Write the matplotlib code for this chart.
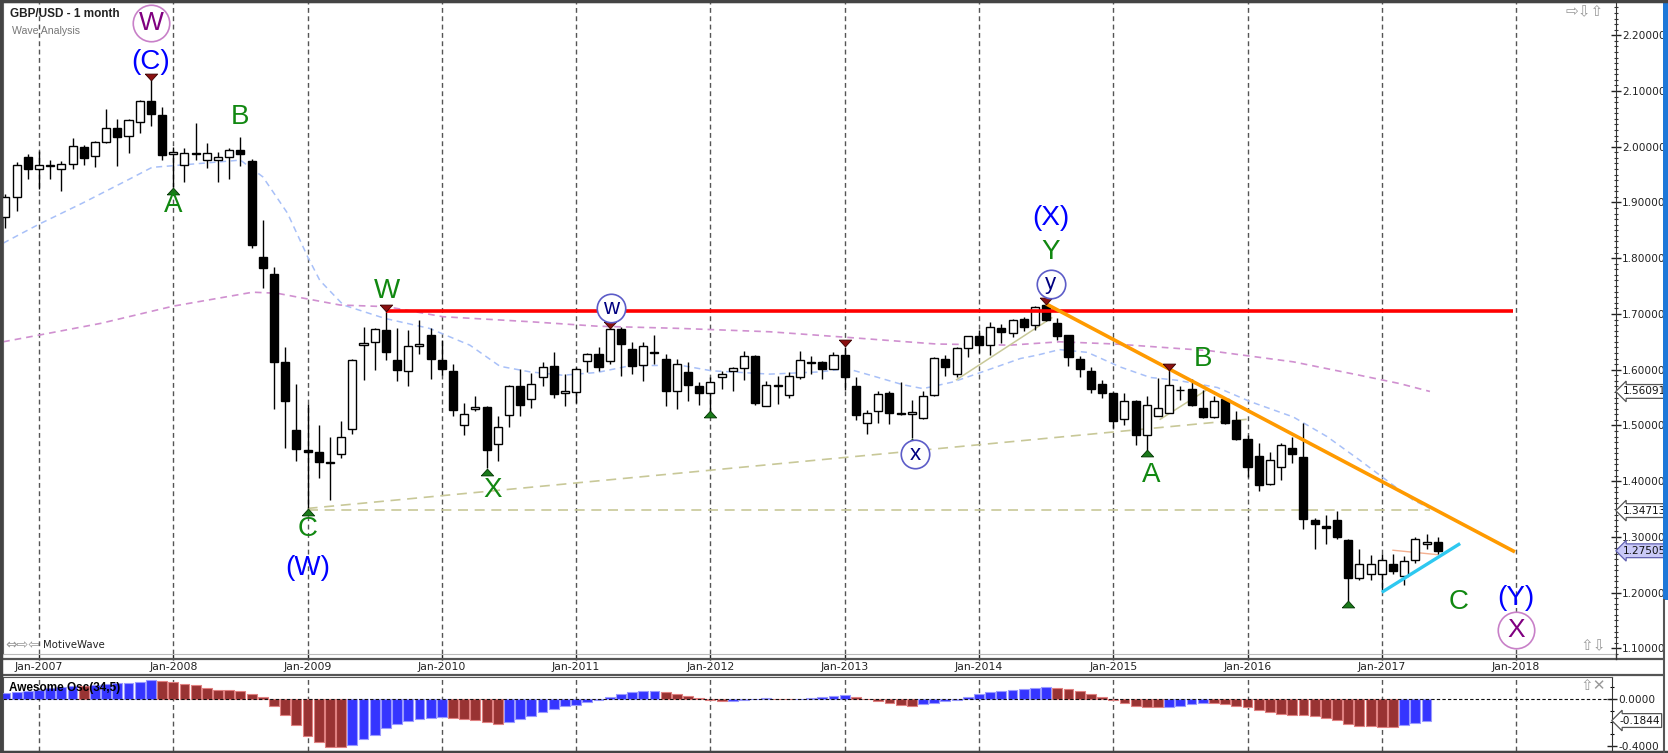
import matplotlib
matplotlib.use("Agg")
import matplotlib.pyplot as plt
import matplotlib.transforms as mtrans
from matplotlib.lines import Line2D
from matplotlib.patches import Rectangle
from matplotlib.ticker import MultipleLocator
import numpy as np

plt.rcParams['font.family'] = ['DejaVu Sans']

# ---------------------------------------------------------------- data
start_year, start_month = 2006, 10   # first candle: Oct 2006 (monthly GBP/USD)

opens = [1.874, 1.910, 1.981,
         1.960, 1.966, 1.960, 1.969, 2.000, 1.983, 2.009, 2.034, 2.019, 2.045, 2.082, 2.057,
         1.987, 1.967, 1.987, 1.977, 1.976, 1.982, 1.995, 1.975, 1.803, 1.772, 1.613, 1.491,
         1.456, 1.452, 1.433, 1.449, 1.493, 1.645, 1.650, 1.672, 1.617, 1.598, 1.643, 1.662,
         1.617, 1.598, 1.500, 1.530, 1.533, 1.467, 1.519, 1.571, 1.547, 1.586, 1.606, 1.558,
         1.560, 1.616, 1.628, 1.615, 1.673, 1.637, 1.609, 1.631, 1.619, 1.561, 1.595, 1.571,
         1.558, 1.586, 1.597, 1.603, 1.625, 1.535, 1.570, 1.555, 1.587, 1.612, 1.614, 1.602,
         1.627, 1.571, 1.505, 1.525, 1.558, 1.523, 1.521, 1.513, 1.555, 1.620, 1.593, 1.639,
         1.660, 1.644, 1.674, 1.665, 1.691, 1.680, 1.716, 1.684, 1.662, 1.620, 1.598, 1.574,
         1.559, 1.512, 1.544, 1.483, 1.517, 1.522, 1.563, 1.565, 1.532, 1.515, 1.547, 1.510,
         1.475, 1.445, 1.395, 1.425, 1.460, 1.444, 1.330, 1.320, 1.330, 1.295, 1.226, 1.234,
         1.234, 1.252, 1.229, 1.259, 1.288, 1.290]
highs = [1.915, 1.973, 1.987,
         1.993, 1.976, 1.975, 2.015, 2.004, 2.010, 2.067, 2.049, 2.050, 2.083, 2.120, 2.071,
         1.999, 1.997, 2.042, 2.006, 1.991, 1.997, 2.017, 1.978, 1.869, 1.785, 1.641, 1.574,
         1.538, 1.501, 1.480, 1.508, 1.620, 1.677, 1.675, 1.705, 1.675, 1.671, 1.689, 1.674,
         1.653, 1.610, 1.541, 1.553, 1.535, 1.516, 1.573, 1.602, 1.594, 1.614, 1.631, 1.592,
         1.605, 1.630, 1.641, 1.675, 1.677, 1.650, 1.650, 1.663, 1.628, 1.619, 1.614, 1.578,
         1.586, 1.598, 1.605, 1.634, 1.627, 1.580, 1.589, 1.595, 1.633, 1.624, 1.616, 1.631,
         1.641, 1.586, 1.527, 1.562, 1.562, 1.577, 1.546, 1.562, 1.622, 1.627, 1.640, 1.661,
         1.671, 1.686, 1.682, 1.691, 1.695, 1.714, 1.718, 1.692, 1.663, 1.624, 1.604, 1.581,
         1.560, 1.558, 1.545, 1.552, 1.585, 1.599, 1.571, 1.583, 1.563, 1.553, 1.549, 1.525,
         1.483, 1.468, 1.453, 1.468, 1.480, 1.504, 1.333, 1.339, 1.347, 1.297, 1.278, 1.268,
         1.270, 1.270, 1.265, 1.299, 1.306, 1.299]
lows = [1.854, 1.885, 1.943,
        1.925, 1.942, 1.921, 1.960, 1.968, 1.964, 2.007, 1.966, 1.989, 2.025, 2.037, 1.977,
        1.927, 1.937, 1.976, 1.961, 1.937, 1.942, 1.966, 1.818, 1.746, 1.529, 1.459, 1.437,
        1.351, 1.406, 1.367, 1.441, 1.485, 1.582, 1.600, 1.617, 1.579, 1.571, 1.628, 1.584,
        1.590, 1.517, 1.482, 1.525, 1.423, 1.437, 1.497, 1.517, 1.532, 1.570, 1.550, 1.535,
        1.541, 1.596, 1.598, 1.610, 1.589, 1.592, 1.579, 1.610, 1.535, 1.529, 1.543, 1.537,
        1.526, 1.565, 1.562, 1.582, 1.537, 1.534, 1.538, 1.550, 1.583, 1.592, 1.583, 1.601,
        1.564, 1.509, 1.485, 1.505, 1.503, 1.519, 1.477, 1.511, 1.553, 1.589, 1.586, 1.622,
        1.629, 1.626, 1.647, 1.658, 1.670, 1.671, 1.688, 1.654, 1.607, 1.587, 1.559, 1.550,
        1.495, 1.501, 1.465, 1.456, 1.516, 1.522, 1.546, 1.535, 1.513, 1.514, 1.502, 1.474,
        1.408, 1.383, 1.393, 1.402, 1.433, 1.314, 1.279, 1.288, 1.297, 1.185, 1.222, 1.222,
        1.205, 1.234, 1.214, 1.253, 1.279, 1.270]
closes = [1.910, 1.967, 1.960,
          1.967, 1.968, 1.969, 2.001, 1.980, 2.009, 2.033, 2.017, 2.048, 2.082, 2.058, 1.985,
          1.991, 1.988, 1.989, 1.988, 1.982, 1.994, 1.987, 1.824, 1.782, 1.613, 1.543, 1.457,
          1.452, 1.434, 1.435, 1.480, 1.617, 1.648, 1.673, 1.631, 1.599, 1.643, 1.646, 1.619,
          1.601, 1.527, 1.520, 1.533, 1.456, 1.497, 1.571, 1.537, 1.574, 1.604, 1.557, 1.561,
          1.602, 1.628, 1.604, 1.673, 1.646, 1.607, 1.643, 1.629, 1.561, 1.611, 1.572, 1.558,
          1.577, 1.592, 1.603, 1.624, 1.541, 1.573, 1.572, 1.589, 1.617, 1.614, 1.601, 1.627,
          1.587, 1.519, 1.522, 1.557, 1.522, 1.521, 1.524, 1.553, 1.621, 1.605, 1.639, 1.660,
          1.645, 1.676, 1.668, 1.690, 1.677, 1.713, 1.689, 1.660, 1.622, 1.601, 1.566, 1.558,
          1.507, 1.544, 1.483, 1.537, 1.531, 1.572, 1.564, 1.536, 1.515, 1.544, 1.505, 1.475,
          1.426, 1.393, 1.438, 1.464, 1.449, 1.332, 1.323, 1.315, 1.299, 1.226, 1.252, 1.252,
          1.258, 1.239, 1.257, 1.297, 1.290, 1.275]

# Awesome Oscillator (34,5), Oct 2006 .. May 2017
ao_values = [0.049, 0.063, 0.069,
             0.077, 0.091, 0.106, 0.114, 0.111, 0.120, 0.129, 0.134, 0.137, 0.146, 0.163, 0.154,
             0.143, 0.129, 0.120, 0.097, 0.074, 0.073, 0.072, 0.043, 0.014, -0.060, -0.137, -0.226,
             -0.317, -0.371, -0.409, -0.411, -0.394, -0.346, -0.309, -0.251, -0.214, -0.189, -0.171, -0.160,
             -0.157, -0.160, -0.171, -0.177, -0.197, -0.214, -0.197, -0.174, -0.146, -0.114, -0.083, -0.060,
             -0.051, -0.029, -0.009, 0.014, 0.040, 0.057, 0.069, 0.071, 0.057, 0.040, 0.026, 0.011,
             -0.009, -0.020, -0.017, -0.009, -0.002, 0.006, 0.002, -0.001, 0.001, 0.008, 0.017, 0.026,
             0.034, 0.017, -0.003, -0.020, -0.037, -0.054, -0.056, -0.043, -0.034, -0.020, -0.009, 0.014,
             0.040, 0.057, 0.069, 0.077, 0.086, 0.094, 0.100, 0.097, 0.089, 0.066, 0.046, 0.017,
             -0.009, -0.037, -0.057, -0.071, -0.072, -0.069, -0.060, -0.043, -0.034, -0.037, -0.046, -0.057,
             -0.071, -0.094, -0.109, -0.126, -0.134, -0.137, -0.149, -0.163, -0.180, -0.214, -0.229, -0.230,
             -0.237, -0.238, -0.223, -0.203, -0.1844]

year_labels = ['Jan-2007', 'Jan-2008', 'Jan-2009', 'Jan-2010', 'Jan-2011', 'Jan-2012',
               'Jan-2013', 'Jan-2014', 'Jan-2015', 'Jan-2016', 'Jan-2017', 'Jan-2018']
price_ticks = [1.1, 1.2, 1.3, 1.4, 1.5, 1.6, 1.7, 1.8, 1.9, 2.0, 2.1, 2.2]
ao_ticks = [0.0, -0.4]

# moving averages (month offset from Jan-2007, value)
ma_fast_m = [-3.2, 0.0, 3.9, 7.9, 10.1, 12.0, 18.0, 20.0, 22.2, 24.0, 25.1, 27.2, 30.9, 34.9,
             38.5, 41.2, 43.9, 46.8, 49.9, 52.8, 57.3, 60.1, 65.3, 69.8, 72.2, 74.3, 77.2, 79.0,
             81.7, 84.3, 87.7, 89.2, 91.2, 93.7, 96.6, 99.3, 101.7, 105.3, 108.2, 112.1, 115.1,
             118.0, 121.6, 122.8, 124.3]
ma_fast_v = [1.827, 1.861, 1.899, 1.940, 1.963, 1.966, 1.976, 1.946, 1.881, 1.803, 1.760, 1.716,
             1.692, 1.674, 1.644, 1.606, 1.596, 1.590, 1.595, 1.607, 1.608, 1.598, 1.592, 1.596,
             1.602, 1.590, 1.573, 1.566, 1.578, 1.596, 1.620, 1.626, 1.636, 1.631, 1.605, 1.586,
             1.581, 1.568, 1.543, 1.515, 1.480, 1.438, 1.384, 1.366, 1.351]
ma_slow_m = [-3.2, 0.0, 5.5, 12.0, 19.1, 21.3, 26.9, 31.1, 36.1, 43.9, 49.9, 57.3, 65.3, 72.2,
             80.2, 86.8, 91.2, 96.2, 104.6, 112.1, 118.0, 121.6, 124.3]
ma_slow_v = [1.650, 1.662, 1.683, 1.714, 1.739, 1.737, 1.716, 1.713, 1.695, 1.686, 1.678, 1.674,
             1.668, 1.658, 1.646, 1.644, 1.650, 1.646, 1.634, 1.614, 1.590, 1.575, 1.5609]

# trend lines (month offset, price)
resist_m, resist_p = [31.0, 131.7], [1.7045, 1.7045]
down_m, down_p = [90.0, 131.9], [1.718, 1.273]
cyan_m, cyan_p = [120.0, 127.0], [1.2005, 1.288]
flat_m, flat_p = [24.0, 124.3], [1.3490, 1.3490]
rising_m, rising_p = [24.0, 108.0], [1.351, 1.511]
chan1_m, chan1_p = [82.0, 90.5], [1.582, 1.693]
chan2_m, chan2_p = [100.2, 104.3], [1.511, 1.563]
salmon_m, salmon_p = [121.0, 125.0], [1.276, 1.268]

# pivots (candle index) with triangle marks
top_pivots = [13, 34, 54, 75, 93, 104]
bottom_pivots = [15, 27, 43, 63, 81, 102, 120]

# wave labels: text, month offset, price, colour, circled
wave_text = ['W', '(C)', 'A', 'B', 'C', '(W)', 'W', 'X', 'w', 'x', '(X)', 'Y', 'y',
             'B', 'A', 'C', '(Y)', 'X']
wave_m = [10.0, 10.0, 12.0, 18.0, 24.0, 24.0, 31.1, 40.5, 51.1, 78.3, 90.4, 90.4, 90.4,
          104.0, 99.4, 126.9, 132.0, 132.0]
wave_p = [2.2226, 2.1526, 1.8955, 2.054, 1.314, 1.245, 1.7417, 1.384, 1.710, 1.448, 1.872,
          1.811, 1.754, 1.620, 1.411, 1.1836, 1.1897, 1.1328]
wave_col = ['purple', 'blue', 'green', 'green', 'green', 'blue', 'green', 'green', 'navy',
            'navy', 'blue', 'green', 'navy', 'green', 'green', 'green', 'blue', 'purple']
wave_circ = [True, False, False, False, False, False, False, False, True, True, False,
             False, True, False, False, False, False, True]

price_boxes = [(1.56091, 'white', '#555555'), (1.34713, 'white', '#555555'),
               (1.27505, '#C9C9F7', '#6060B0')]
ao_box = -0.1844

# ---------------------------------------------------------------- figure
W, H = 1668, 753
fig = plt.figure(figsize=(W / 100, H / 100), dpi=100)
fig.patch.set_facecolor('white')
PIX = mtrans.Affine2D().scale(1 / W, -1 / H).translate(0, 1) + fig.transFigure

ax = fig.add_axes([3 / W, 1 - 654 / H, 1613 / W, 652 / H])
ax2 = fig.add_axes([3 / W, 1 - 751 / H, 1609 / W, 74 / H])

PX_PER_M = 11.19
X0 = 39.0
ax.set_xlim((3 - X0) / PX_PER_M, (1616 - X0) / PX_PER_M)
ax2.set_xlim((3 - X0) / PX_PER_M, (1612 - X0) / PX_PER_M)
ax.set_ylim(1.0898, 2.2597)
ax2.set_ylim(-0.445, 0.188)

base_m = (start_year - 2007) * 12 + (start_month - 1)
cm = np.arange(len(opens)) + base_m
am = np.arange(len(ao_values)) + base_m

COL = {'purple': '#800080', 'blue': '#0000FF', 'green': '#118811', 'navy': '#000080'}
CIRC = {'purple': '#C880C8', 'navy': '#5C5CC8'}

# moving averages
ax.plot(ma_fast_m, ma_fast_v, color='#A8C0F8', lw=1.1, ls=(0, (4, 3)), zorder=2)
ax.plot(ma_slow_m, ma_slow_v, color='#D090D0', lw=1.2, ls=(0, (4, 3)), zorder=2)

# tan helper lines
ax.plot(flat_m, flat_p, color='#C8C898', lw=1.2, ls=(0, (6, 4)), zorder=2)
ax.plot(rising_m, rising_p, color='#C8C898', lw=1.2, ls=(0, (6, 4)), zorder=2)
ax.plot(chan1_m, chan1_p, color='#C8C898', lw=1.1, zorder=2)
ax.plot(chan2_m, chan2_p, color='#C8C898', lw=1.1, zorder=2)
ax.plot(salmon_m, salmon_p, color='#F4B090', lw=1.0, zorder=2)

# candles
for mi, o, h, l, c in zip(cm, opens, highs, lows, closes):
    ax.plot([mi, mi], [l, h], color='black', lw=1.0, zorder=3, solid_capstyle='butt')
    bot = min(o, c)
    ht = max(abs(c - o), 0.0006)
    fc = 'white' if c >= o else 'black'
    ax.add_patch(Rectangle((mi - 0.36, bot), 0.72, ht, fc=fc, ec='black', lw=1.0, zorder=4))

# main trend lines
ax.plot(resist_m, resist_p, color='#FF0000', lw=2.6, zorder=5, solid_capstyle='butt')
ax.plot(down_m, down_p, color='#FF9A00', lw=2.6, zorder=5, solid_capstyle='butt')
ax.plot(cyan_m, cyan_p, color='#2EC8F0', lw=2.4, zorder=5, solid_capstyle='butt')

# pivot triangles
tri_dn = [(-1, 0.55), (1, 0.55), (0, -0.55), (-1, 0.55)]
tri_up = [(-1, -0.55), (1, -0.55), (0, 0.55), (-1, -0.55)]
ax.scatter([cm[i] for i in top_pivots], [highs[i] + 0.006 for i in top_pivots], marker=tri_dn,
           s=80, c='#8B1010', edgecolors='#3A0000', linewidths=0.6, zorder=6)
ax.scatter([cm[i] for i in bottom_pivots], [lows[i] - 0.006 for i in bottom_pivots], marker=tri_up,
           s=80, c='#1A7A1A', edgecolors='#003300', linewidths=0.6, zorder=6)

# wave labels
for t, m, p, col, circ in zip(wave_text, wave_m, wave_p, wave_col, wave_circ):
    if circ:
        big = t.isupper()
        ax.scatter([m], [p], s=(690 if big else 420), facecolors='white', edgecolors=CIRC[col],
                   linewidths=1.2, zorder=6)
        ax.text(m, p, t, color=COL[col], fontsize=(19 if big else 16), ha='center',
                va='center', family='Liberation Sans', zorder=7)
    else:
        ax.text(m, p, t, color=COL[col], fontsize=20, ha='center', va='center',
                family='Liberation Sans', zorder=7)

# axes styling (main)
ax.set_xticks([12 * k for k in range(len(year_labels))])
ax.set_xticklabels(year_labels)
ax.grid(axis='x', color='#555555', lw=1.0, ls=(0, (3.5, 2.5)))
ax.set_axisbelow(True)
ax.tick_params(axis='x', direction='out', length=4, width=1, colors='#222222', labelsize=7.8, pad=2)
ax.yaxis.tick_right()
ax.set_yticks(price_ticks)
ax.set_yticklabels([f'{v:.5f}' for v in price_ticks])
ax.yaxis.set_minor_locator(MultipleLocator(0.01))
ax.tick_params(axis='y', which='major', direction='inout', length=7, width=1, colors='#222222',
               labelsize=7.6, pad=1)
ax.tick_params(axis='y', which='minor', direction='inout', length=3.5, width=0.8, colors='#333333')
ax.tick_params(axis='y', which='both', left=False)
for side in ['left', 'top']:
    ax.spines[side].set_color('#666666')
ax.spines['right'].set_color('#333333')
ax.spines['bottom'].set_color('#BBBBBB')

blend = mtrans.blended_transform_factory(ax.transAxes, ax.transData)
for val, fc, ec in price_boxes:
    ax.text(1.0045, val, f'{val:.5f}', transform=blend, fontsize=7.6, va='center', ha='left',
            color='#111111', zorder=8, clip_on=False,
            bbox=dict(boxstyle='larrow,pad=0.18', fc=fc, ec=ec, lw=0.9))

# AO panel
colors = []
edges = []
for k, v in enumerate(ao_values):
    up = k == 0 or v >= ao_values[k - 1]
    colors.append('#3535FF' if up else '#993333')
    edges.append('#9A9AFF' if up else '#E08080')
ax2.bar(am, ao_values, width=0.88, color=colors, edgecolor=edges, linewidth=0.8, zorder=3)
ax2.axhline(0, color='#111111', lw=0.8, ls=(0, (3, 2)), zorder=4)
ax2.set_xticks([12 * k for k in range(len(year_labels))])
ax2.grid(axis='x', color='#555555', lw=1.0, ls=(0, (3.5, 2.5)))
ax2.set_axisbelow(True)
ax2.tick_params(axis='x', length=0, labelbottom=False)
ax2.yaxis.tick_right()
ax2.set_yticks(ao_ticks)
ax2.set_yticklabels([f'{v:.4f}' for v in ao_ticks])
ax2.yaxis.set_minor_locator(MultipleLocator(0.1))
ax2.tick_params(axis='y', which='major', direction='inout', length=7, width=1, colors='#222222',
                labelsize=7.6, pad=1)
ax2.tick_params(axis='y', which='minor', direction='inout', length=3.5, width=0.8)
for side in ['left', 'top', 'bottom']:
    ax2.spines[side].set_color('#555555')
ax2.spines['right'].set_color('#333333')
blend2 = mtrans.blended_transform_factory(ax2.transAxes, ax2.transData)
ax2.text(1.0045, ao_box, f'{ao_box:.4f}', transform=blend2, fontsize=7.6, va='center', ha='left',
         color='#111111', zorder=8, clip_on=False,
         bbox=dict(boxstyle='larrow,pad=0.18', fc='white', ec='#555555', lw=0.9))
ax2.text(9, 0.09, 'Awesome Osc(34,5)', transform=mtrans.blended_transform_factory(
    mtrans.IdentityTransform(), ax2.transData), fontsize=8.5, fontweight='bold',
    family='Liberation Sans', va='center', ha='left', zorder=6)

# frame / band lines
for (x1, y1, x2, y2, c, lw) in [(0, 659, 1662, 659, '#555555', 1.6), (0, 675.5, 1662, 675.5, '#555555', 1.6),
                                 (1, 0, 1, 753, '#444444', 2.5), (0, 1, 1668, 1, '#444444', 2.5),
                                 (0, 752, 1668, 752, '#444444', 2.5), (1616, 654, 1616, 659, '#333333', 1.0),
                                 (1664, 600, 1664, 753, '#555555', 1.5)]:
    fig.add_artist(Line2D([x1, x2], [y1, y2], color=c, lw=lw, transform=PIX))
fig.add_artist(Rectangle((1663, 0), 5, 600, transform=PIX, fc='#1E78D8', ec='none'))

# texts
fig.text(10 / W, 1 - 14 / H, 'GBP/USD - 1 month', fontsize=8.5, fontweight='bold',
         family='Liberation Sans', va='center', ha='left', color='#222222')
fig.text(12 / W, 1 - 31 / H, 'Wave Analysis', fontsize=7.6, family='Liberation Sans',
         va='center', ha='left', color='#777777')
fig.text(5 / W, 1 - 645 / H, '\u21d4\u21e8\u21e6', fontsize=10, va='center', ha='left', color='#999999')
fig.text(43 / W, 1 - 645 / H, 'MotiveWave', fontsize=7.3, va='center', ha='left', color='#222222')
fig.text(1566 / W, 1 - 12 / H, '\u21e8\u21e9\u21e7', fontsize=11, va='center', ha='left', color='#999999')
fig.text(1580 / W, 1 - 646 / H, '\u21e7\u21e9', fontsize=11, va='center', ha='left', color='#999999')
fig.text(1580 / W, 1 - 685 / H, '\u21e7\u2715', fontsize=11, va='center', ha='left', color='#999999')

fig.savefig('out.png', dpi=100)
